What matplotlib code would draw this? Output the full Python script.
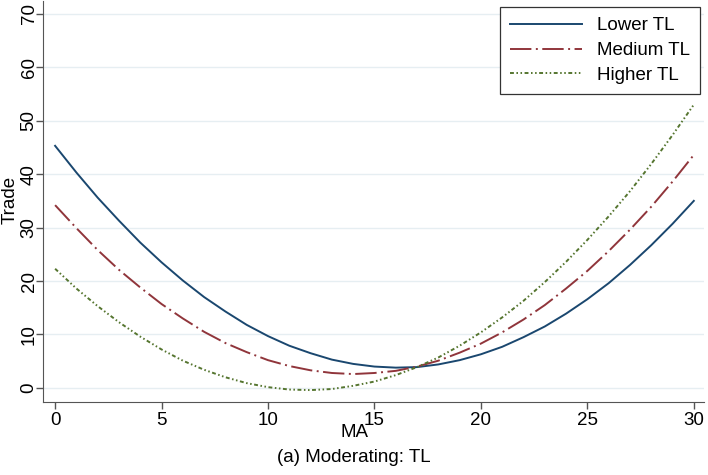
import matplotlib
matplotlib.use("Agg")
import matplotlib.pyplot as plt

plt.rcParams["font.family"] = ["Liberation Sans", "DejaVu Sans"]

# values at integer MA
ma = list(range(0, 31))
lower_tl = [45.3, 40.3, 35.6, 31.3, 27.2, 23.5, 20.1, 17.0, 14.3, 11.8,
            9.7, 7.9, 6.5, 5.3, 4.5, 4.0, 3.8, 3.9, 4.4, 5.2,
            6.3, 7.7, 9.5, 11.5, 13.9, 16.6, 19.6, 23.0, 26.7, 30.7, 35.0]
medium_tl = [34.2, 29.9, 25.8, 22.1, 18.8, 15.7, 13.0, 10.5, 8.4, 6.7,
             5.2, 4.1, 3.3, 2.8, 2.6, 2.8, 3.2, 4.0, 5.1, 6.6,
             8.3, 10.4, 12.8, 15.5, 18.6, 21.9, 25.6, 29.6, 33.9, 38.6, 43.6]
higher_tl = [22.3, 18.6, 15.3, 12.3, 9.6, 7.2, 5.1, 3.4, 2.0, 0.9,
             0.15, -0.3, -0.4, -0.2, 0.4, 1.2, 2.4, 3.9, 5.7, 7.9,
             10.4, 13.2, 16.3, 19.8, 23.6, 27.7, 32.1, 36.8, 41.9, 47.3, 53.0]
labels = ["Lower TL", "Medium TL", "Higher TL"]
xticks = [0, 5, 10, 15, 20, 25, 30]
yticks = [0, 10, 20, 30, 40, 50, 60, 70]

fig = plt.figure(figsize=(7.08, 4.75), dpi=100)
ax = fig.add_axes([0.061, 0.154, 0.934, 0.844])

ax.plot(ma, lower_tl, color="#1a476f", lw=1.4, label=labels[0])
ax.plot(ma, medium_tl, color="#90353b", lw=1.4, dashes=(11, 2.3, 1, 2.3), label=labels[1])
ax.plot(ma, higher_tl, color="#55752f", lw=1.4, dashes=(2, 1.3, 0.8, 1.3, 0.8, 1.3),
        label=labels[2])

ax.set_xlim(-0.56, 30.5)
ax.set_ylim(-2.6, 72.4)
ax.set_xticks(xticks)
ax.set_yticks(yticks)
ax.set_yticklabels([str(v) for v in yticks], rotation=90, va="center")
ax.tick_params(direction="out", length=5, width=1, color="#555555", labelsize=13.5, pad=2.5)
ax.tick_params(axis="y", pad=-1)
ax.grid(axis="y", color="#e6eef2", lw=1)
ax.set_axisbelow(True)
for s in ("top", "right"):
    ax.spines[s].set_visible(False)
for s in ("left", "bottom"):
    ax.spines[s].set_color("#555555")

ax.set_ylabel("Trade", fontsize=13.5)
ax.yaxis.set_label_coords(19 / 708, 1 - 200 / 475, transform=fig.transFigure)
ax.set_xlabel("MA", fontsize=13.5)
ax.xaxis.set_label_coords(0.5, 1 - 424 / 475, transform=fig.transFigure)
fig.text(0.5, 1 - 458 / 475, "(a) Moderating: TL", ha="center", va="center", fontsize=13.5)

leg = ax.legend(loc="upper right", bbox_to_anchor=(700 / 708, 1 - 7 / 475),
                bbox_transform=fig.transFigure, borderaxespad=0, fontsize=13.5,
                handlelength=3.8, fancybox=False, framealpha=1, edgecolor="#333333",
                labelspacing=0.4, borderpad=0.55)
leg.get_frame().set_linewidth(0.9)

fig.savefig("out.png", dpi=100)
